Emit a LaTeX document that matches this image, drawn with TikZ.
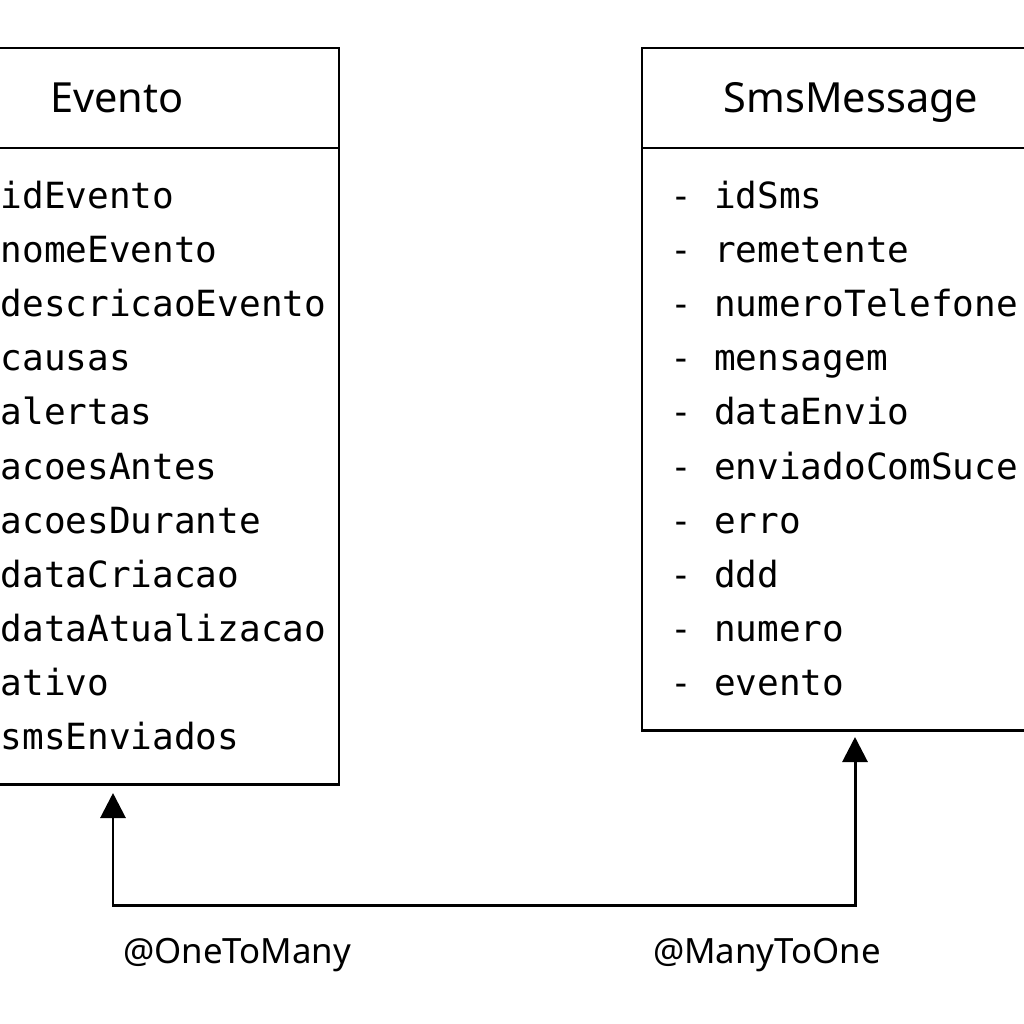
\documentclass[tikz,border=0pt]{standalone}
\usepackage{fontspec}
\setmainfont{Noto Sans}
\setmonofont{DejaVu Sans Mono}
\usetikzlibrary{positioning}
\usetikzlibrary{arrows.meta}
\usetikzlibrary{calc}

\begin{document}
\begin{tikzpicture}[x=0.01cm,y=-0.01cm,
  classbox/.style={draw,line width=0.6pt,inner sep=0pt},
  hdr/.style={anchor=base,inner sep=0pt,font=\fontsize{11.8}{13}\selectfont},
  attr/.style={anchor=base west,inner sep=0pt,font=\ttfamily\fontsize{10.25}{12}\selectfont},
  rel/.style={anchor=base,inner sep=0pt,font=\fontsize{9.9}{12}\selectfont},
  assoc/.style={line width=0.85pt,{Triangle[length=0.25cm,width=0.25cm]}-{Triangle[length=0.25cm,width=0.25cm]}}]
\fill[white] (0,0) rectangle (1024,1024);
\useasboundingbox (0,0) rectangle (1024,1024);
\clip (0,0) rectangle (1024,1024);

\coordinate (hline) at (0,148);
\coordinate (rail) at (0,905);
\coordinate (evpin) at (113,793);
\coordinate (smspin) at (855,737);

% class boxes
\node[classbox,minimum width=4.2cm,minimum height=7.36cm,anchor=north east] (evento) at (340,47) {};
\node[classbox,minimum width=4.6cm,minimum height=6.82cm,anchor=north west] (sms) at (641,47) {};
\draw[line width=0.6pt] (evento.west |- hline) -- (evento.east |- hline);
\draw[line width=0.6pt] (sms.west |- hline) -- (sms.east |- hline);

\node[hdr] (evtitle) at (117,112) {Evento};
\node[hdr] (smstitle) at (851,112) {SmsMessage};

% Evento fields
\node[attr] (ev1) at (0,208) {idEvento};
\node[attr] (ev2) at (0,262) {nomeEvento};
\node[attr] (ev3) at (0,316) {descricaoEvento};
\node[attr] (ev4) at (0,370) {causas};
\node[attr] (ev5) at (0,424) {alertas};
\node[attr] (ev6) at (0,479) {acoesAntes};
\node[attr] (ev7) at (0,533) {acoesDurante};
\node[attr] (ev8) at (0,587) {dataCriacao};
\node[attr] (ev9) at (0,641) {dataAtualizacao};
\node[attr] (ev10) at (0,695) {ativo};
\node[attr] (ev11) at (0,749) {smsEnviados};

% SmsMessage fields
\node[attr] (sm1) at (670,208) {- idSms};
\node[attr] (sm2) at (670,262) {- remetente};
\node[attr] (sm3) at (670,316) {- numeroTelefone};
\node[attr] (sm4) at (670,370) {- mensagem};
\node[attr] (sm5) at (670,424) {- dataEnvio};
\node[attr] (sm6) at (670,479) {- enviadoComSuce};
\node[attr] (sm7) at (670,533) {- erro};
\node[attr] (sm8) at (670,587) {- ddd};
\node[attr] (sm9) at (670,641) {- numero};
\node[attr] (sm10) at (670,695) {- evento};

\draw[assoc] (evpin) -- (evpin |- rail) -- (smspin |- rail) -- (smspin);
\node[rel] (onemany) at (237,963) {@OneToMany};
\node[rel] (manyone) at (767,963) {@ManyToOne};
\end{tikzpicture}
\end{document}
